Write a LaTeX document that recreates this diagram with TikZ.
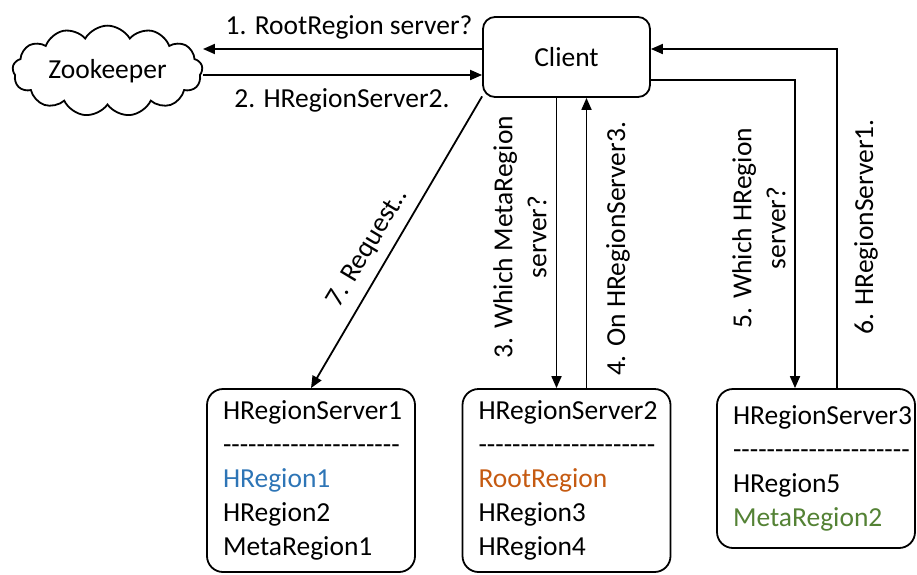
\documentclass[tikz,border=0pt]{standalone}
\usepackage{fontspec}
\setmainfont{Carlito}[Ligatures=TeXOff]
\usetikzlibrary{arrows.meta}
\usetikzlibrary{shapes}

\definecolor{regBlue}{RGB}{46,117,182}
\definecolor{regOrange}{RGB}{197,90,17}
\definecolor{regGreen}{RGB}{84,130,53}

\newcommand{\dashrow}{\mbox{---------------------}}

\begin{document}
\begin{tikzpicture}[x = 1pt, y = -1pt, font = \fontsize{27.5}{34}\selectfont]
	\tikzstyle{arrowStyle} = [line width = 1.8pt, -{Triangle[length = 12pt, width = 10pt]}]
	\tikzstyle{cloudStyle} = [shape = cloud, draw, line width = 1.8pt, cloud puffs = 13, cloud puff arc = 120, aspect = 2.4, minimum width = 190pt, minimum height = 78pt, inner sep = 0pt]
	\tikzstyle{clientStyle} = [shape = rectangle, draw, line width = 1.8pt, rounded corners = 12pt, minimum width = 167pt, minimum height = 80pt]
	\tikzstyle{serverStyle} = [shape = rectangle, draw, line width = 1.8pt, rounded corners = 16pt, align = left, inner xsep = 16pt, text width = 176pt]
	\useasboundingbox (0,0) rectangle (917,574);
	\node[cloudStyle] (zk) at (107.5, 71) {Zookeeper};
	\node[clientStyle] (client) at (566.5, 57) {Client};
	\node[serverStyle, minimum height = 183pt] (srv1) at (311, 480.5) {\mbox{HRegionServer1}\\\dashrow\\\textcolor{regBlue}{HRegion1}\\HRegion2\\MetaRegion1};
	\node[serverStyle, minimum height = 183pt] (srv2) at (566.5, 480.5) {\mbox{HRegionServer2}\\\dashrow\\\textcolor{regOrange}{RootRegion}\\HRegion3\\HRegion4};
	\node[serverStyle, text width = 166pt, minimum height = 159pt] (srv3) at (816, 468.5) {\mbox{HRegionServer3}\\\dashrow\\HRegion5\\\textcolor{regGreen}{MetaRegion2}};
	\draw[arrowStyle] ([yshift = 8pt]client.west) -- ([yshift = 8pt]client.west -| zk.east);
	\draw[arrowStyle] ([yshift = -18pt]client.west -| zk.east) -- ([yshift = -18pt]client.west);
	\draw[arrowStyle] ([xshift = -10pt]client.south) -- ([xshift = -10pt]srv2.north);
	\draw[arrowStyle] ([xshift = 20pt]srv2.north) -- ([xshift = 20pt]client.south);
	\draw[arrowStyle] ([yshift = -23pt]client.east) -| ([xshift = -21pt]srv3.north);
	\draw[arrowStyle] ([xshift = 21pt]srv3.north) |- ([yshift = 8pt]client.east);
	\draw[arrowStyle] (client.205) -- (srv1.north);
	\node (l1) at (349, 27) {1. RootRegion server?};
	\node (l2) at (342, 100) {2. HRegionServer2.};
	\node[rotate = 90, align = center] (l3) at (520, 237) {3. Which MetaRegion\\server?};
	\node[rotate = 90] (l4) at (618, 249) {4. On HRegionServer3.};
	\node[rotate = 90, align = center] (l5) at (759, 228) {5. Which HRegion\\server?};
	\node[rotate = 90] (l6) at (866, 227) {6. HRegionServer1.};
	\node[rotate = 59] (l7) at (368, 248) {7. Request..};
\end{tikzpicture}
\end{document}
